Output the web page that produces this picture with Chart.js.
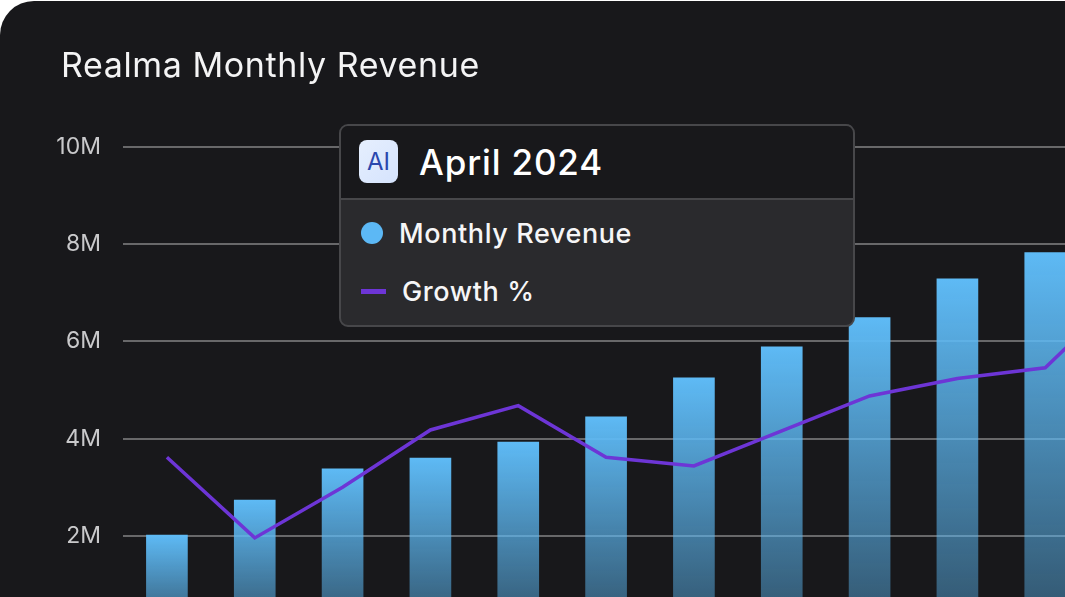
<!DOCTYPE html>
<html>
<head>
<meta charset="utf-8">
<title>Realma Monthly Revenue</title>
<script src="https://cdn.jsdelivr.net/npm/chart.js@4"></script>
<style>
  html, body { margin: 0; height: 100%; overflow: hidden; background: #fff; font-family: Inter, sans-serif; }
  .card { position: absolute; left: 0; top: 1px; width: 1065px; height: 596px; background: #18181b; border-top-left-radius: 34px; overflow: hidden; }
  .plot { position: absolute; left: 0; top: -1px; width: 1177px; height: 669px; }
  .title { position: absolute; left: 61px; top: 43px; font-size: 34px; line-height: 42px; color: #f4f4f5; letter-spacing: .6px; white-space: nowrap; }
  .tip { position: absolute; left: 339px; top: 123px; width: 512px; height: 199px; border: 2px solid #47474a; border-radius: 9px; background: #2a2a2d; overflow: hidden; }
  .tip-head { height: 72px; background: #18181b; border-bottom: 2px solid #47474a; position: relative; }
  .tip-icon { position: absolute; left: 18px; top: 14px; width: 39px; height: 43px; border-radius: 8px; background: linear-gradient(135deg, #e6effe, #d5e3fd); color: #2a47ad; font-size: 24px; line-height: 43px; text-align: center; }
  .tip-month { position: absolute; left: 78px; top: 14px; font-size: 35px; line-height: 44px; font-weight: 500; color: #fff; letter-spacing: .85px; white-space: nowrap; }
  .tip-row { position: absolute; font-size: 27px; line-height: 34px; font-weight: 500; color: #f6f6f7; letter-spacing: .6px; white-space: nowrap; }
  .swatch-dot { position: absolute; left: 20px; top: 96px; width: 22px; height: 22px; border-radius: 50%; background: #5cb8f5; }
  .swatch-line { position: absolute; left: 20px; top: 163px; width: 25px; height: 5px; background: #6d35d6; }
</style>
</head>
<body>
<div class="card">
  <div class="plot"><canvas id="chart" width="1177" height="669"></canvas></div>
  <div class="title" id="title"></div>
  <div class="tip">
    <div class="tip-head">
      <div class="tip-icon">AI</div>
      <div class="tip-month" id="tipMonth"></div>
    </div>
    <div class="swatch-dot"></div>
    <div class="tip-row" id="rowBars" style="left:58px;top:91px"></div>
    <div class="swatch-line"></div>
    <div class="tip-row" id="rowLine" style="left:61px;top:149px"></div>
  </div>
</div>
<script>
// ─── data ────────────────────────────────────────────────────────────────────
const TITLE = 'Realma Monthly Revenue';
const ACTIVE_MONTH = 'April 2024';
const months = ['Jan','Feb','Mar','Apr','May','Jun','Jul','Aug','Sep','Oct','Nov','Dec'];
const revenue = [2.02, 2.74, 3.38, 3.60, 3.93, 4.45, 5.25, 5.89, 6.49, 7.29, 7.83, 8.60];
const growth = [18.1, 9.8, 15.0, 20.9, 23.4, 18.1, 17.2, 20.8, 24.4, 26.2, 27.3, 36.0];
const yTicks = [0, 2, 4, 6, 8, 10];
const BAR_LABEL = 'Monthly Revenue';
const LINE_LABEL = 'Growth %';

document.getElementById('title').textContent = TITLE;
document.getElementById('tipMonth').textContent = ACTIVE_MONTH;
document.getElementById('rowBars').textContent = BAR_LABEL;
document.getElementById('rowLine').textContent = LINE_LABEL;

// each bar fades from its own top down to the baseline
function barFill(ctx) {
  const { chart, parsed } = ctx;
  if (!parsed || !chart.chartArea) return '#5cb8f5';
  const top = chart.scales.y.getPixelForValue(parsed.y);
  const g = chart.ctx.createLinearGradient(0, top, 0, chart.chartArea.bottom);
  g.addColorStop(0, 'rgba(94,186,245,1)');
  g.addColorStop(1, 'rgba(94,186,245,0.36)');
  return g;
}

new Chart(document.getElementById('chart'), {
  data: {
    labels: months,
    datasets: [
      { type: 'line', label: LINE_LABEL, data: growth, yAxisID: 'y1', order: 0,
        borderColor: '#6d35d6', borderWidth: 3.5, pointRadius: 0, tension: 0 },
      { type: 'bar', label: BAR_LABEL, data: revenue, yAxisID: 'y', order: 1,
        backgroundColor: barFill, barThickness: 41 }
    ]
  },
  options: {
    responsive: false,
    maintainAspectRatio: false,
    animation: false,
    layout: { padding: { top: 147 } },
    plugins: { legend: { display: false }, tooltip: { enabled: false } },
    scales: {
      x: { display: false, offset: true },
      y: {
        min: 0, max: 10,
        afterFit: s => { s.width = 123; },
        afterBuildTicks: s => { s.ticks = yTicks.map(value => ({ value })); },
        border: { display: false },
        grid: { color: '#68686a', lineWidth: 2, drawTicks: false },
        ticks: { color: '#c9c9cb', padding: 22, font: { family: 'Inter', size: 23 },
          callback: v => v ? v + 'M' : '' }
      },
      y1: { display: false, min: 0, max: 50 }
    }
  }
});
</script>
</body>
</html>
